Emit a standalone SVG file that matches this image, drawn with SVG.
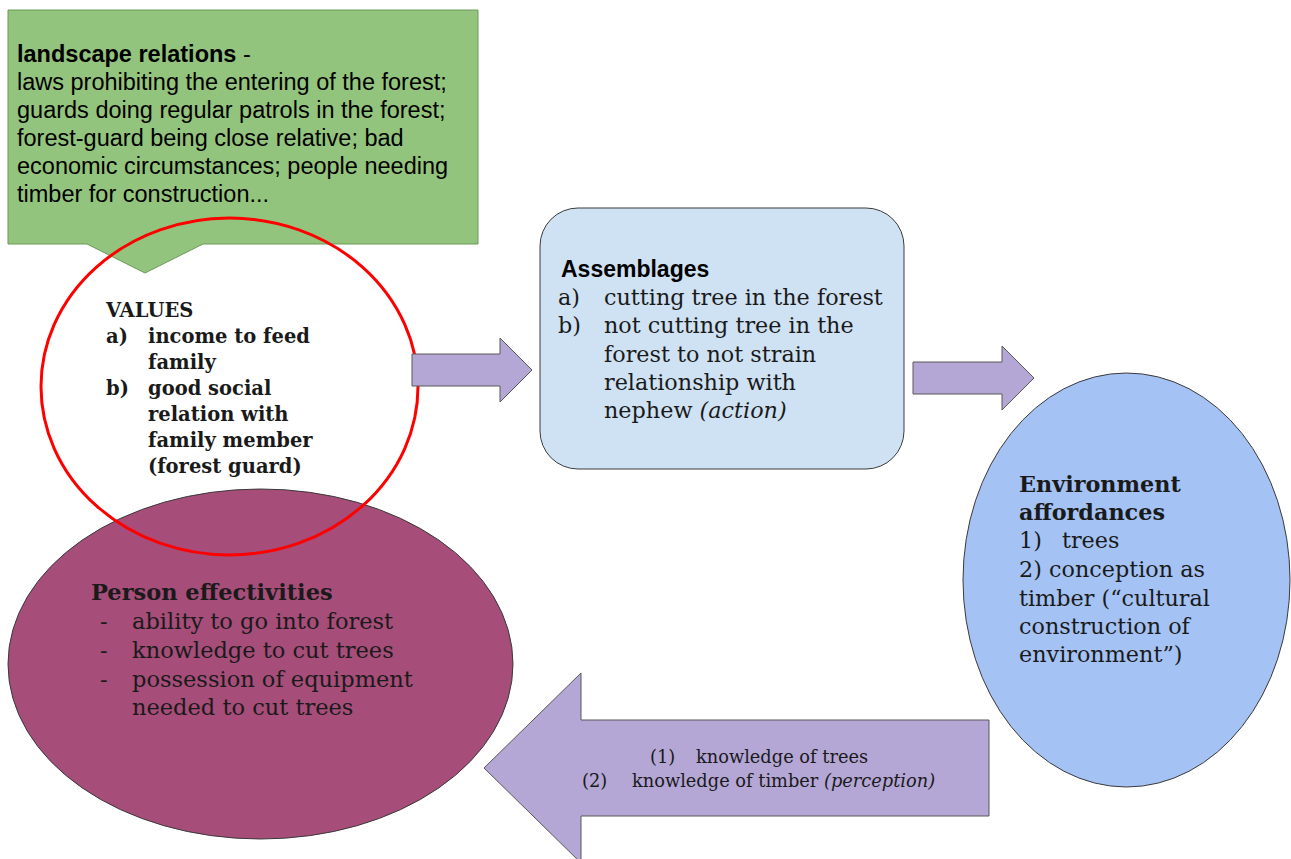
<svg xmlns="http://www.w3.org/2000/svg" width="1291" height="859" viewBox="0 0 1291 859">
  <style>
    .sans { font-family: "Liberation Sans", Arial, sans-serif; fill: #000; }
    .serif { font-family: "DejaVu Serif", "Liberation Serif", serif; fill: #1a1a1a; }
    .b { font-weight: bold; }
    .i { font-style: italic; }
    .arrow { fill: #b4a7d6; stroke: #595959; stroke-width: 1; }
    .shape { stroke: #3a3a3a; stroke-width: 1; }
  </style>
  <rect width="1291" height="859" fill="#fff"/>

  <!-- Person effectivities -->
  <g id="person">
    <ellipse class="shape" cx="260.5" cy="664" rx="252.5" ry="175" fill="#a64d79"/>
    <text class="serif" font-size="22.5">
      <tspan class="b" x="91" y="600">Person effectivities</tspan>
      <tspan x="100" y="629">-</tspan><tspan x="132" y="629">ability to go into forest</tspan>
      <tspan x="100" y="658">-</tspan><tspan x="132" y="658">knowledge to cut trees</tspan>
      <tspan x="100" y="687">-</tspan><tspan x="132" y="687">possession of equipment</tspan>
      <tspan x="132" y="715">needed to cut trees</tspan>
    </text>
  </g>

  <!-- Landscape relations callout -->
  <g id="landscape">
    <path d="M8,10 H478 V244 H203 L145,273 L87,244 H8 Z" fill="#93c47d" stroke="#6a9a54" stroke-width="1"/>
    <text class="sans" font-size="23.5">
      <tspan x="17" y="62"><tspan class="b">landscape relations</tspan> -</tspan>
      <tspan x="17" y="90">laws prohibiting the entering of the forest;</tspan>
      <tspan x="17" y="118">guards doing regular patrols in the forest;</tspan>
      <tspan x="17" y="146">forest-guard being close relative; bad</tspan>
      <tspan x="17" y="174">economic circumstances; people needing</tspan>
      <tspan x="17" y="202">timber for construction...</tspan>
    </text>
  </g>

  <!-- Values -->
  <g id="values">
    <ellipse cx="229.5" cy="386.5" rx="188.5" ry="168.5" fill="none" stroke="#ff0000" stroke-width="3"/>
    <text class="serif b" font-size="19.5">
      <tspan x="106" y="317">VALUES</tspan>
      <tspan x="106" y="343">a)</tspan><tspan x="148" y="343">income to feed</tspan>
      <tspan x="148" y="369">family</tspan>
      <tspan x="106" y="395">b)</tspan><tspan x="148" y="395">good social</tspan>
      <tspan x="148" y="421">relation with</tspan>
      <tspan x="148" y="447">family member</tspan>
      <tspan x="148" y="473">(forest guard)</tspan>
    </text>
  </g>

  <!-- Assemblages -->
  <g id="assemblages">
    <rect class="shape" x="540" y="208" width="364" height="261" rx="38" fill="#cfe2f3"/>
    <text class="sans b" font-size="23" x="561" y="277">Assemblages</text>
    <text class="serif" font-size="22.3">
      <tspan x="558" y="305">a)</tspan><tspan x="604" y="305">cutting tree in the forest</tspan>
      <tspan x="558" y="333">b)</tspan><tspan x="604" y="333">not cutting tree in the</tspan>
      <tspan x="604" y="362">forest to not strain</tspan>
      <tspan x="604" y="390">relationship with</tspan>
      <tspan x="604" y="418">nephew <tspan class="i">(action)</tspan></tspan>
    </text>
  </g>

  <!-- Environment affordances -->
  <g id="environment">
    <ellipse class="shape" cx="1126.5" cy="580" rx="163.5" ry="207" fill="#a4c2f4"/>
    <text class="serif" font-size="22.3">
      <tspan class="b" x="1019" y="492">Environment</tspan>
      <tspan class="b" x="1019" y="520">affordances</tspan>
      <tspan x="1019" y="548">1)</tspan><tspan x="1062" y="548">trees</tspan>
      <tspan x="1019" y="577">2) conception as</tspan>
      <tspan x="1019" y="606">timber (“cultural</tspan>
      <tspan x="1019" y="634">construction of</tspan>
      <tspan x="1019" y="662">environment”)</tspan>
    </text>
  </g>

  <!-- Block arrows -->
  <g id="connectors">
    <path class="arrow" d="M412,354 H500 V338 L532,370 L500,402 V386 H412 Z"/>
    <path class="arrow" d="M913,362 H1002 V346 L1034,378 L1002,410 V394 H913 Z"/>
    <path class="arrow" d="M989,720 V816 H581 V863 L484,768 L581,673 V720 Z"/>
    <text class="serif" font-size="17.8">
      <tspan x="650" y="763">(1)</tspan><tspan x="696" y="763">knowledge of trees</tspan>
      <tspan x="582" y="787">(2)</tspan><tspan x="632" y="787">knowledge of timber <tspan class="i">(perception)</tspan></tspan>
    </text>
  </g>
</svg>
